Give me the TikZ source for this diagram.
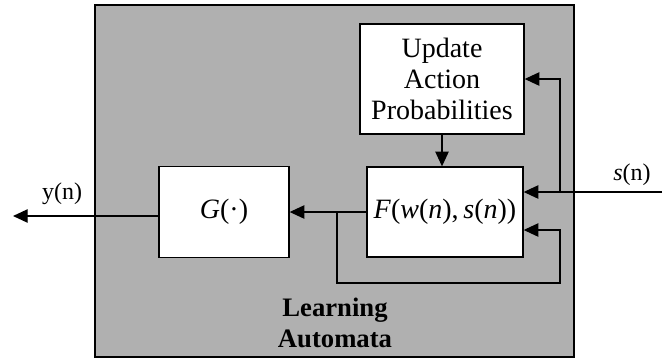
\documentclass[tikz,border=0pt]{standalone}
\usepackage{fontspec}
\setmainfont{Liberation Serif}
\usetikzlibrary{positioning,arrows.meta,calc}
\definecolor{lashade}{HTML}{B0B0B0}
\tikzset{
  blockbox/.style={draw, fill=white, line width=1pt, align=center, inner sep=2pt},
  updbox/.style={blockbox, font=\fontsize{21}{23}\selectfont,
    minimum width=123pt, minimum height=82.5pt},
  funcbox/.style={blockbox, font=\fontsize{21}{24}\selectfont},
  shadebox/.style={draw, fill=lashade, line width=0.8pt, inner sep=0pt},
  flow/.style={-{Triangle[length=11pt, width=10pt]}, line width=1pt},
  siglab/.style={font=\fontsize{18}{22}\selectfont, inner sep=1pt},
  titlelab/.style={font=\fontsize{20}{23}\selectfont\bfseries, align=center, inner sep=1pt},
}
\begin{document}
\begin{tikzpicture}[x=0.75pt, y=-0.75pt]
\useasboundingbox (0,0) rectangle (667,362);
% --- automaton body ---
\node[shadebox, minimum width=359.25pt, minimum height=264pt] (la) at (334.5,181) {};
\node[titlelab] (latitle) at (335,323) {Learning\\Automata};
% --- blocks ---
\node[updbox] (upd) at (442,79) {Update\\Action\\Probabilities};
\node[funcbox, minimum width=117pt, minimum height=67.5pt] (fbox) at (445,212) {\textit{F}(\textit{w}(\textit{n}),\,\textit{s}(\textit{n}))};
\node[funcbox, minimum width=97.5pt, minimum height=68.25pt] (gbox) at (224,212) {\textit{G}(·)};
% --- signals ---
\coordinate (sin) at (662,192);
\coordinate (br) at (560,192);
\coordinate (yout) at (13,216);
\coordinate (fb) at (337,212);
\coordinate (fbdown) at (337,283);
\coordinate (fbright) at (560,283);
\coordinate (fbin) at (560,230);
\node[siglab] (slab) at (632,175) {\textit{s}(n)};
\node[siglab] (ylab) at (62,194) {y(n)};
% --- flows ---
\draw[flow] (sin) -- (sin -| fbox.east);
\draw[flow] (br) |- (upd.east);
\draw[flow] (upd.south) -- (upd.south |- fbox.north);
\draw[flow] (fbox.west) -- (gbox.east);
\draw[flow] (fb) -- (fbdown) -- (fbright) -- (fbin) -- (fbin -| fbox.east);
\draw[flow] (yout -| gbox.west) -- (yout);
\end{tikzpicture}
\end{document}
